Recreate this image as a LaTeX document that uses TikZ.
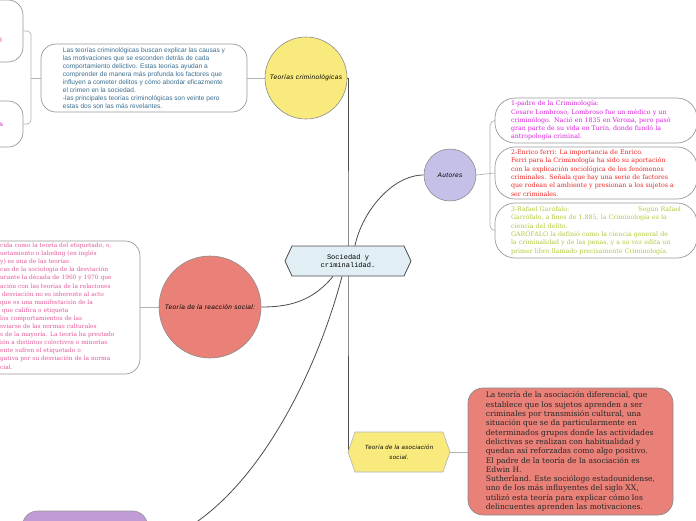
\documentclass[tikz,border=0pt]{standalone}
\usepackage{fontspec}
\setsansfont{Liberation Sans}
\setmonofont{Liberation Mono}
\newfontfamily\slabfont{DejaVu Serif}
\newfontfamily\handfont[LetterSpace=6]{Liberation Sans}
\usetikzlibrary{shapes.symbols,backgrounds}
\definecolor{hexblue}{HTML}{E1EFF5}
\definecolor{yellowfill}{HTML}{F9EA7E}
\definecolor{salmon}{HTML}{EA8178}
\definecolor{lavender}{HTML}{C5C0E8}
\definecolor{plum}{HTML}{C19BD6}
\definecolor{bluetext}{HTML}{3B6E8F}
\definecolor{magentatext}{HTML}{DD22DD}
\definecolor{redtext}{HTML}{F02525}
\definecolor{greentext}{HTML}{B5C93A}
\definecolor{pinktext}{HTML}{E4589C}
\begin{document}
\begin{tikzpicture}[x=1pt, y=-1pt,
    hexa/.style={shape=signal, signal to=west and east, draw=black!70, line width=0.8pt, inner sep=0pt},
    bubble/.style={circle, draw=black!45, line width=0.6pt, inner sep=0pt, font=\handfont\itshape\fontsize{6.5}{7.5}\selectfont},
    leafbox/.style={draw=black!40, line width=0.7pt, fill=white, rounded corners=15pt, inner sep=0pt},
    branch/.style={draw=black!70, line width=0.8pt},
    twig/.style={draw=black!30, line width=0.7pt}]
  \useasboundingbox (0,0) rectangle (696,520);
  \clip (0,0) rectangle (696,520);

  % central topic
  \node[hexa, fill=hexblue, minimum width=126pt, minimum height=30pt, signal pointer angle=130,
        font=\ttfamily\fontsize{7}{8.5}\selectfont, align=center] (soc) at (348,261) {Sociedad y\\criminalidad.};

  % main branches
  \node[bubble, fill=yellowfill, minimum size=82pt] (teor) at (306,78) {Teorías criminológicas};
  \node[bubble, fill=lavender, minimum size=52pt] (aut) at (450,175) {Autores};
  \node[bubble, fill=salmon, minimum size=102pt] (reac) at (210,307) {Teoría de la reacción social:};
  \node[hexa, fill=yellowfill, draw=black!30, line width=0.6pt, minimum width=102pt, minimum height=40pt,
        signal pointer angle=141, align=center, font=\handfont\itshape\fontsize{6}{10}\selectfont] (asoc) at (399,452)
        {Teoría de la asociación\\social.};

  % leaves
  \node[leafbox, minimum width=206pt, minimum height=68pt, align=left, text=bluetext,
        font=\sffamily\fontsize{6.6}{7.9}\selectfont] (tbox) at (144,78)
        {Las teorías criminológicas buscan explicar las causas y\\
         las motivaciones que se esconden detrás de cada\\
         comportamiento delictivo. Estas teorías ayudan a\\
         comprender de manera más profunda los factores que\\
         influyen a cometer delitos y cómo abordar eficazmente\\
         el crimen en la sociedad.\\
         -las principales teorías criminológicas son veinte pero\\
         estas dos son las más revelantes.};
  \node[leafbox, minimum width=126pt, minimum height=62pt] (lbox1) at (-40,31) {};
  \node[leafbox, minimum width=126pt, minimum height=46pt] (lbox2) at (-40,124) {};
  \node[text=redtext, font=\sffamily\fontsize{6.2}{7}\selectfont, inner sep=0pt] (frag1) at (1,40) {l};
  \node[text=magentatext!70!violet, font=\sffamily\fontsize{6.2}{7}\selectfont, inner sep=0pt] (frag2) at (1.5,125) {s};

  \node[leafbox, rounded corners=20pt, minimum width=202pt, minimum height=45pt, text width=170pt, align=left,
        text=magentatext, font=\slabfont\fontsize{6.3}{8.3}\selectfont] (abox1) at (596,120.5)
        {1-padre de la Criminología:\\
         Cesare Lombroso, Lombroso fue un médico y un\\
         criminólogo. Nació en 1835 en Verona, pero pasó\\
         gran parte de su vida en Turín, donde fundó la\\
         antropología criminal.};
  \node[leafbox, rounded corners=20pt, minimum width=202pt, minimum height=52pt, text width=170pt, align=left,
        text=redtext, font=\slabfont\fontsize{6.3}{8.3}\selectfont] (abox2) at (596,173)
        {2-Enrico ferri: La importancia de Enrico.\\
         Ferri para la Criminología ha sido su aportación\\
         con la explicación sociológica de los fenómenos\\
         criminales. Señala que hay una serie de factores\\
         que rodean el ambiente y presionan a los sujetos a\\
         ser criminales.};
  \node[leafbox, rounded corners=20pt, minimum width=202pt, minimum height=55pt, text width=170pt, align=left,
        text=greentext, font=\slabfont\fontsize{6.3}{8.3}\selectfont] (abox3) at (596,230.5)
        {3-Rafael Garófalo:\hfill Según Rafael\\
         Garrófalo, a fines de 1.885, la Criminología es la\\
         ciencia del delito.\\
         GARÓFALO la definió como la ciencia general de\\
         la criminalidad y de las penas, y a su vez edita un\\
         primer libro llamado precisamente Criminología.};

  \node[leafbox, minimum width=200pt, minimum height=133pt] (rbox) at (40,307.5) {};
  \node[anchor=west, inner sep=0pt, align=left, text=pinktext,
        font=\slabfont\fontsize{5.9}{8.1}\selectfont] (rtext) at (0,306)
        {cida como la teoría del etiquetado, o,\\
         uetamiento o labeling (en inglés\\
         y) es una de las teorías\\
         cas de la sociología de la desviación\\
         urante la década de 1960 y 1970 que\\
         ación con las teorías de la relaciones\\
         \ desviación no es inherente al acto\\
         que es una manifestación de la\\
         \ que califica o etiqueta\\
         los comportamientos de las\\
         sviarse de las normas culturales\\
         s de la mayoría. La teoría ha prestado\\
         ión a distintos colectivos o minorías\\
         ente sufren el etiquetado o\\
         gativa por su desviación de la norma\\
         cial.};

  \node[leafbox, draw=black!45, fill=salmon, minimum width=205pt, minimum height=127pt, align=left,
        text=black!85, font=\slabfont\fontsize{7.6}{9.3}\selectfont] (sbox) at (570.5,451.5)
        {La teoría de la asociación diferencial, que\\
         establece que los sujetos aprenden a ser\\
         criminales por transmisión cultural, una\\
         situación que se da particularmente en\\
         determinados grupos donde las actividades\\
         delictivas se realizan con habitualidad y\\
         quedan así reforzadas como algo positivo.\\
         El padre de la teoría de la asociación es\\
         Edwin H.\\
         Sutherland. Este sociólogo estadounidense,\\
         uno de los más influyentes del siglo XX,\\
         utilizó esta teoría para explicar cómo los\\
         delincuentes aprenden las motivaciones.};

  \node[leafbox, draw=black!40, fill=plum, minimum width=125pt, minimum height=68pt] (pbox) at (85,545) {};

  \coordinate (lbr) at (31,78);
  \coordinate (abr) at (490,175);

  \begin{scope}[on background layer]
    \draw[branch] (teor.east) -| (soc.center) |- (asoc.west);
    \draw[branch] ([xshift=7pt]soc.north) .. controls (362,212) and (392,175) .. (aut.west);
    \draw[branch] ([xshift=-15pt]soc.south) .. controls (312,302) and (288,307) .. (reac.east);
    \draw[branch] ([xshift=-6pt]soc.south) .. controls (312,390) and (240,522) .. (pbox.east);
    \draw[twig] (teor.west) -- (tbox.west |- teor.west) ;
    \draw[twig] (tbox.west) -- (lbr);
    \draw[twig, rounded corners=4pt] (lbox1.east) -| (lbr) |- (lbox2.east);
    \draw[twig] (aut.east) -- (abox2.west);
    \draw[twig, rounded corners=5pt] (abox1.west) -| (abr) |- (abox3.west);
    \draw[twig] (reac.west) -- (rbox.east |- reac.west);
    \draw[twig] (asoc.east) -- (sbox.west |- asoc.east);
  \end{scope}
\end{tikzpicture}
\end{document}
